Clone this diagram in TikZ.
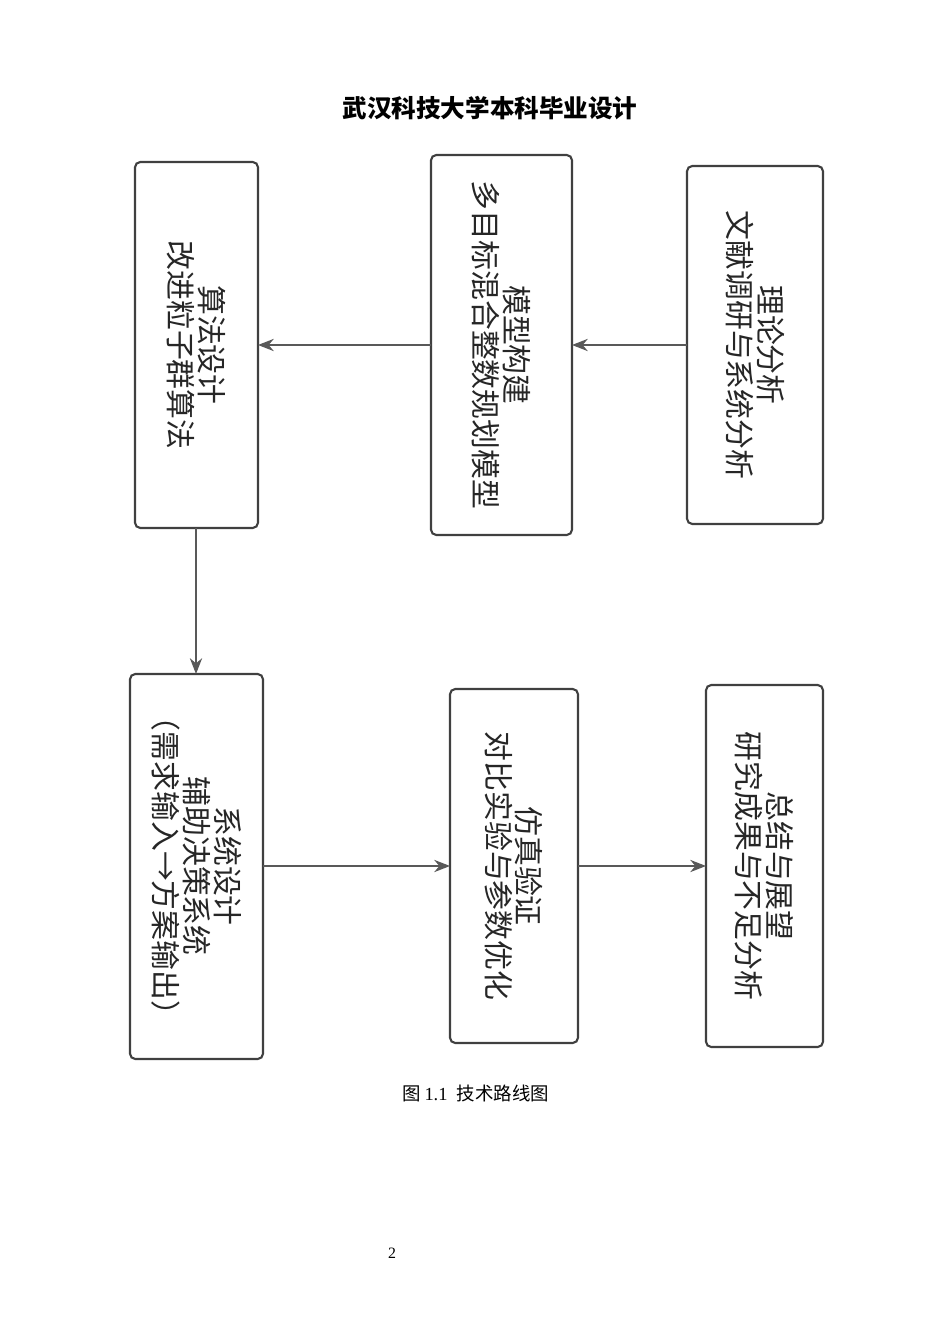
\documentclass[tikz,border=0pt]{standalone}
\usepackage{fontspec}
\setmainfont{Liberation Serif}
\newfontfamily\cjk{Noto Sans CJK SC}
\usetikzlibrary{arrows.meta}
\begin{document}
\begin{tikzpicture}[x=0.02cm,y=-0.02cm,
 box/.style={draw=black!75,line width=1.2pt,rounded corners=3pt},
 txt/.style={rotate=-90,align=center,font=\cjk\fontsize{17}{17.5}\selectfont,text=black!85},
 arr/.style={draw=black!65,line width=0.8pt,-{Stealth[length=9pt,width=7pt]}}]
\useasboundingbox (0,0) rectangle (950,1344);
\node (hdr) at (490,108) {\cjk\bfseries\fontsize{14}{14}\selectfont 武汉科技大学本科毕业设计};
\draw[box] (135,162) rectangle (258,528);
\draw[box] (431,155) rectangle (572,535);
\draw[box] (687,166) rectangle (823,524);
\draw[box] (130,674) rectangle (263,1059);
\draw[box] (450,689) rectangle (578,1043);
\draw[box] (706,685) rectangle (823,1047);
\node[txt] (A) at (196.5,345) {算法设计\\改进粒子群算法};
\node[txt] (B) at (501.5,345) {模型构建\\多目标混合整数规划模型};
\node[txt] (C) at (755,345) {理论分析\\文献调研与系统分析};
\node[txt] (D) at (196.5,866) {系统设计\\辅助决策系统\\（需求输入→方案输出）};
\node[txt] (E) at (514,866) {仿真验证\\对比实验与参数优化};
\node[txt] (F) at (764.5,866) {总结与展望\\研究成果与不足分析};
\coordinate (cR) at (687,345); \coordinate (bL) at (431,345);
\coordinate (bR) at (572,345); \coordinate (aR) at (258,345);
\coordinate (aB) at (196,528); \coordinate (dT) at (196,674);
\coordinate (dR) at (263,866); \coordinate (eL) at (450,866);
\coordinate (eR) at (578,866); \coordinate (fL) at (706,866);
\draw[arr] (cR) -- (bR);
\draw[arr] (bL) -- (aR);
\draw[arr] (aB) -- (dT);
\draw[arr] (dR) -- (eL);
\draw[arr] (eR) -- (fL);
\node (cap) at (476,1093) {\fontsize{10.5}{12}\selectfont{\cjk 图}\,1.1\ \ {\cjk 技术路线图}};
\node (pg) at (392,1253) {\fontsize{9}{10}\selectfont 2};
\end{tikzpicture}
\end{document}
